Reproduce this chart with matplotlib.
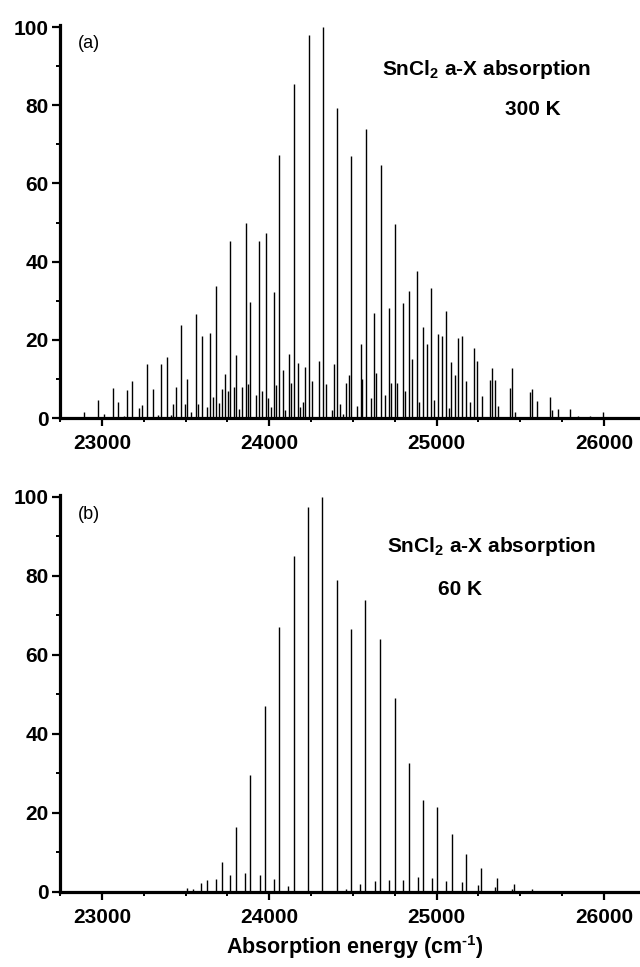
import matplotlib
matplotlib.use("Agg")
import matplotlib.pyplot as plt
from matplotlib.ticker import MultipleLocator

########### DATA ###########
# panel (a): 300 K stick spectrum (position in cm-1, relative intensity)
pos_300 = [22891, 22976, 23014, 23064, 23097, 23130, 23149, 23181, 23219, 23237,
           23268, 23304, 23338, 23356, 23390, 23411, 23427, 23441, 23475, 23495,
           23511, 23531, 23562, 23577, 23596, 23630, 23648, 23664, 23680, 23702,
           23720, 23733, 23751, 23767, 23787, 23803, 23821, 23839, 23859, 23875,
           23888, 23922, 23940, 23958, 23978, 23994, 24012, 24030, 24043, 24061,
           24083, 24097, 24117, 24131, 24149, 24169, 24183, 24200, 24215, 24236,
           24256, 24300, 24320, 24340, 24372, 24384, 24407, 24425, 24441, 24459,
           24475, 24491, 24525, 24546, 24556, 24578, 24610, 24628, 24640, 24666,
           24693, 24716, 24727, 24751, 24763, 24799, 24809, 24833, 24855, 24885,
           24896, 24920, 24940, 24968, 24982, 25006, 25033, 25057, 25071, 25087,
           25107, 25127, 25149, 25177, 25200, 25224, 25244, 25274, 25316, 25333,
           25349, 25365, 25439, 25449, 25469, 25558, 25570, 25602, 25677, 25687,
           25723, 25797, 25844, 25916, 25992, 26113]
int_300 = [1.6, 4.6, 1.0, 7.7, 4.2, 0.5, 7.1, 9.4, 2.5, 3.3,
           13.9, 7.5, 0.8, 13.7, 15.7, 0.8, 3.6, 8.0, 23.8, 3.6,
           10.1, 1.6, 26.6, 3.6, 20.9, 2.9, 21.8, 5.3, 33.8, 3.8,
           7.3, 11.2, 7.0, 45.3, 8.0, 16.2, 2.3, 8.0, 50.0, 8.7,
           29.8, 6.0, 45.3, 7.0, 47.4, 5.0, 2.9, 32.3, 8.5, 67.2,
           12.4, 2.0, 16.5, 9.0, 85.5, 14.2, 2.9, 4.0, 13.1, 98.0,
           9.4, 14.6, 100.0, 8.7, 2.0, 13.9, 79.4, 3.6, 1.0, 9.0,
           10.9, 66.9, 3.2, 19.0, 10.0, 74.0, 5.0, 26.9, 11.5, 64.6,
           6.0, 28.1, 9.0, 49.5, 9.0, 29.3, 7.0, 32.6, 15.0, 37.7,
           4.0, 23.2, 19.0, 33.2, 4.5, 21.5, 21.0, 27.3, 2.5, 14.3,
           11.0, 20.4, 20.9, 9.4, 4.2, 18.0, 14.6, 5.6, 9.7, 12.9,
           9.8, 3.0, 7.8, 12.8, 1.6, 6.7, 7.5, 4.4, 5.4, 2.0,
           2.3, 2.3, 0.5, 0.5, 1.6, 0.3]

# panel (b): 60 K stick spectrum
pos_60 = [23511, 23544, 23594, 23628, 23683, 23720, 23768, 23800, 23856, 23887,
          23942, 23974, 24030, 24059, 24115, 24147, 24234, 24315, 24402, 24460,
          24490, 24545, 24575, 24631, 24663, 24716, 24750, 24802, 24836, 24887,
          24921, 24973, 25004, 25058, 25090, 25149, 25175, 25245, 25265, 25350,
          25362, 25453, 25463, 25570]
int_60 = [1.0, 0.8, 2.3, 3.0, 3.4, 7.6, 4.4, 16.4, 4.7, 29.7,
          4.4, 47.0, 3.4, 67.0, 1.5, 85.0, 97.5, 100.0, 79.0, 0.8,
          66.5, 2.1, 74.0, 2.7, 64.0, 3.1, 49.0, 3.1, 32.7, 3.9,
          23.4, 3.5, 21.6, 2.8, 14.8, 2.4, 9.6, 1.8, 6.0, 1.2,
          3.6, 0.8, 2.0, 0.7]

temps = ["300 K", "60 K"]
panel_labels = ["(a)", "(b)"]
############################

plt.rcParams["font.family"] = ["Liberation Sans", "DejaVu Sans"]
plt.rcParams["mathtext.default"] = "regular"

fig = plt.figure(figsize=(6.4, 9.67), dpi=100)
ax_a = fig.add_axes([0.09375, 0.5677, 0.90625, 0.4064])
ax_b = fig.add_axes([0.09375, 0.0776, 0.90625, 0.4105])

# text placement per panel: (title x, title y, temp x, temp y)
text_pos = [(0.555, 0.873, 0.767, 0.771), (0.564, 0.857, 0.652, 0.748)]

for ax, pos, ints, temp, lab, tp in zip([ax_a, ax_b], [pos_300, pos_60], [int_300, int_60],
                                        temps, panel_labels, text_pos):
    ax.vlines(pos, 0, ints, color="black", lw=1.0)
    ax.set_xlim(22750, 26215)
    ax.set_ylim(0, 100.5)

    for side in ["top", "right"]:
        ax.spines[side].set_visible(False)
    for side in ["left", "bottom"]:
        ax.spines[side].set_linewidth(2.3)

    ax.xaxis.set_major_locator(MultipleLocator(1000))
    ax.xaxis.set_minor_locator(MultipleLocator(250))
    ax.yaxis.set_major_locator(MultipleLocator(20))
    ax.yaxis.set_minor_locator(MultipleLocator(10))
    ax.tick_params(which="major", direction="out", length=5.5, width=1.6, labelsize=15)
    ax.tick_params(which="minor", direction="out", length=3, width=1.4)
    ax.tick_params(axis="x", pad=6)
    ax.tick_params(axis="y", pad=2.5)
    for t in ax.get_xticklabels() + ax.get_yticklabels():
        t.set_fontweight("bold")

    ax.text(0.031, 0.952, lab, transform=ax.transAxes, fontsize=13, va="center")
    ax.text(tp[0], tp[1], "SnCl$_2$ a-X absorption", transform=ax.transAxes,
            fontsize=15, fontweight="bold", va="baseline")
    ax.text(tp[2], tp[3], temp, transform=ax.transAxes,
            fontsize=15, fontweight="bold", va="baseline")

fig.text(0.555, 0.0135, "Absorption energy (cm$^{\u20101}$)", fontsize=15.5, fontweight="bold",
         ha="center", va="baseline")

fig.savefig("out.png", dpi=100)
